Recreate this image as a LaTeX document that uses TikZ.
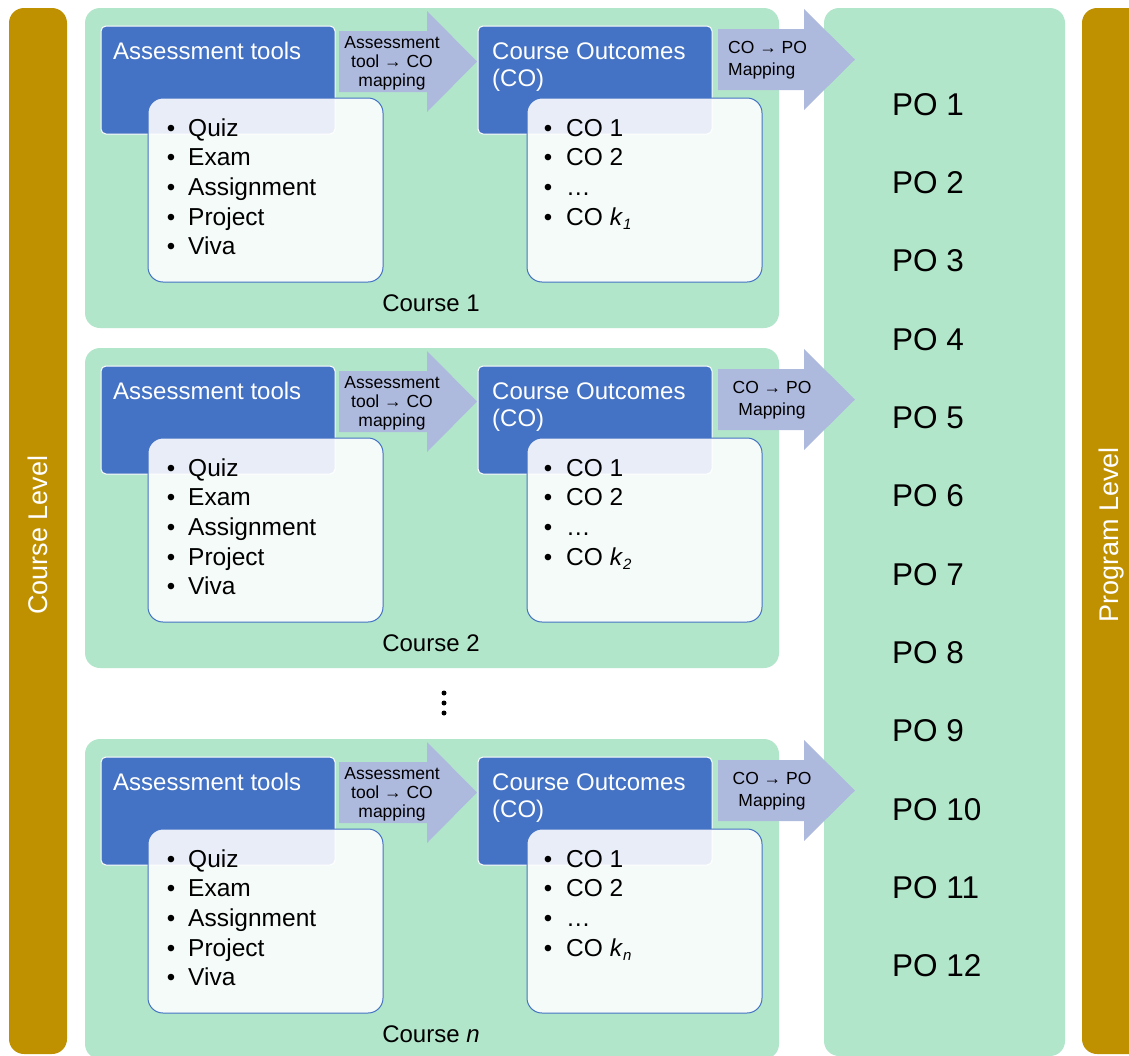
\documentclass[tikz,border=0pt]{standalone}
\usepackage{fontspec}
\setmainfont{Liberation Sans}
\definecolor{cgreen}{HTML}{B2E6CA}
\definecolor{cblue}{HTML}{4472C4}
\definecolor{carrow}{HTML}{AEB9DE}
\definecolor{cgold}{HTML}{BF9000}
\newcommand\fs[1]{\fontsize{#1}{#1}\selectfont}
\newcommand\subk[1]{\textit{k}{\fs{15}\raisebox{-4pt}{\textit{#1}}}}
\tikzset{
 coursebg/.style={fill=cgreen, rounded corners=15pt},
 goldbar/.style={fill=cgold, rounded corners=15pt},
 bluebox/.style={fill=cblue, draw=white, line width=1pt, rounded corners=5pt},
 listbox/.style={fill=white, fill opacity=0.88, draw=cblue, line width=1pt, rounded corners=15pt},
 blockarrow/.style={fill=carrow},
 txt/.style={inner sep=0pt, anchor=base west},
 hdr/.style={txt, text=white, font=\fs{24}},
 itm/.style={txt, font=\fs{24.5}},
 alab/.style={inner sep=0pt, anchor=base, font=\fs{17.5}},
 polab/.style={txt, font=\fs{31.5}},
 side/.style={inner sep=0pt, text=white, font=\fs{27}, rotate=90},
 dotmark/.style={circle, fill=black, inner sep=0pt, minimum size=5pt},
}
% #1 y offset, #2 name prefix, #3 course label, #4 k subscript, #5 options of CO->PO label, #6 x of CO->PO label
\newcommand\drawcourse[6]{%
\begin{scope}[shift={(0,#1)}]
 \fill[coursebg] (85,8) rectangle (779,328);
 % assessment tools
 \draw[bluebox] (101,26) rectangle (335,134);
 \node[hdr] (#2-at) at (113,59) {Assessment tools};
 \draw[listbox] (148,98) rectangle (383,282);
 \foreach \t [count=\i from 0] in {Quiz,Exam,Assignment,Project,Viva} {
   \node[inner sep=0pt, anchor=base, font=\fs{24}] (#2-ab\i) at (171,136+29.7*\i) {•};
   \node[itm] (#2-a\i) at (188,136+29.7*\i) {\t};
 }
 % course outcomes
 \draw[bluebox] (478,26) rectangle (712,134);
 \node[hdr] (#2-co) at (492,59) {Course Outcomes};
 \node[hdr] (#2-co2) at (492,86) {(CO)};
 \draw[listbox] (527,98) rectangle (762,282);
 \foreach \t [count=\i from 0] in {CO 1,CO 2,…,CO \subk{#4}} {
   \node[inner sep=0pt, anchor=base, font=\fs{24}] (#2-cb\i) at (548,136+29.7*\i) {•};
   \node[itm] (#2-c\i) at (566,136+29.7*\i) {\t};
 }
 % arrow 1
 \fill[blockarrow] (339,31) -- (427,31) -- (427,11) -- (477,61.5) -- (427,112) -- (427,92) -- (339,92) -- cycle;
 \node[alab] (#2-m1) at (392,48.3) {Assessment};
 \node[alab] (#2-m2) at (392,67.7) {tool → CO};
 \node[alab] (#2-m3) at (392,86.5) {mapping};
 % arrow 2
 \fill[blockarrow] (718,29) -- (804,29) -- (804,9) -- (855,59.5) -- (804,110) -- (804,90) -- (718,90) -- cycle;
 \node[alab,#5] (#2-p1) at (#6,53) {CO → PO};
 \node[alab,#5] (#2-p2) at (#6,75) {Mapping};
 % label
 \node[inner sep=0pt, anchor=base, font=\fs{24}] (#2-lab) at (431,311) {#3};
\end{scope}}

\begin{document}
\begin{tikzpicture}[x=1pt,y=-1pt]
\useasboundingbox (0,0) rectangle (1129,1055);
% side bars
\fill[goldbar] (9,8) rectangle (67,1054);
\fill[goldbar] (1082,8) rectangle (1145,1054);
\node[side] (cl) at (38,535) {Course Level};
\node[side] (pl) at (1112,535) {Program Level};
% program outcomes
\fill[coursebg] (824,8) rectangle (1065,1056);
\foreach \i in {1,...,12} {
  \node[polab] (po\i) at (892,115+78.36*\i-78.36) {PO \i};
}
% courses
\drawcourse{0}{c1}{Course 1}{1}{anchor=base west}{728}
\drawcourse{340}{c2}{Course 2}{2}{}{772}
\drawcourse{731}{cn}{Course \textit{n}}{n}{}{772}
% dots
\node[dotmark] (d1) at (444,693) {};
\node[dotmark] (d2) at (444,703) {};
\node[dotmark] (d3) at (444,713) {};
\end{tikzpicture}
\end{document}
